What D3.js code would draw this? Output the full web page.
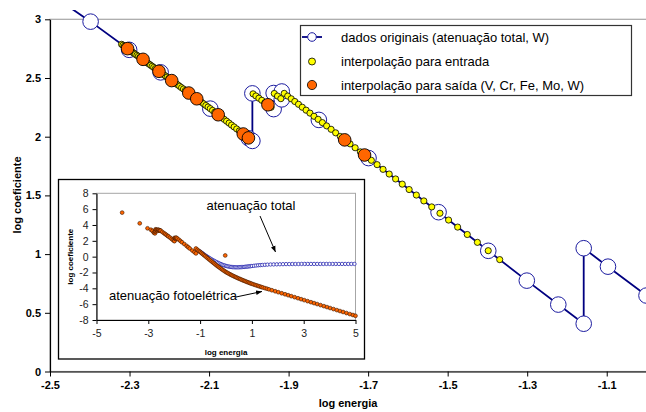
<!DOCTYPE html>
<html><head><meta charset="utf-8">
<script src="https://cdn.jsdelivr.net/npm/d3@7"></script>
<style>body{margin:0;background:#fff} svg{display:block} text{font-family:Arial,"Liberation Sans",sans-serif}</style>
</head><body>
<svg id="c" width="646" height="412"></svg>
<script>
// ---- main chart data (log10 energy in MeV, log10 coefficient) ----
const origLogE = [-2.5229,-2.3979,-2.3010,-2.2218,-2.0969,-2.0000,-1.9911,-1.9911,-1.9376,-1.9376,-1.9172,-1.9172,-1.8239,-1.6990,-1.5229,-1.3979,-1.3010,-1.2218,-1.1579,-1.1579,-1.0969,-1.0000];
const origLogMu = [3.27,2.980,2.740,2.548,2.239,1.986,1.964,2.369,2.235,2.372,2.318,2.385,2.143,1.818,1.357,1.028,0.774,0.570,0.407,1.050,0.893,0.647];

const entradaLogE = [-2.3200,-2.3166,-2.3132,-2.3098,-2.3063,-2.3029,-2.2994,-2.2958,-2.2923,-2.2887,
-2.2851,-2.2814,-2.2777,-2.2740,-2.2703,-2.2665,-2.2627,-2.2588,-2.2550,-2.2510,
-2.2471,-2.2431,-2.2391,-2.2350,-2.2309,-2.2268,-2.2226,-2.2184,-2.2142,-2.2099,
-2.2055,-2.2011,-2.1967,-2.1922,-2.1877,-2.1831,-2.1785,-2.1738,-2.1691,-2.1643,
-2.1595,-2.1546,-2.1497,-2.1447,-2.1397,-2.1345,-2.1294,-2.1241,-2.1188,-2.1135,
-2.1081,-2.1026,-2.0970,-2.0913,-2.0856,-2.0798,-2.0740,-2.0680,-2.0620,-2.0559,
-2.0497,-2.0434,-2.0370,-2.0305,-2.0239,-2.0172,-2.0105,-2.0036,-1.9966,-1.9894,
-1.9822,-1.9748,-1.9674,-1.9597,-1.9520,-1.9441,-1.9360,-1.9278,-1.9195,-1.9110,
-1.9023,-1.8934,-1.8844,-1.8751,-1.8657,-1.8560,-1.8462,-1.8361,-1.8257,-1.8151,
-1.8043,-1.7931,-1.7817,-1.7700,-1.7579,-1.7455,-1.7327,-1.7196,-1.7060,-1.6920,
-1.6775,-1.6625,-1.6470,-1.6309,-1.6142,-1.5969,-1.5788,-1.5599,-1.5401,-1.5194,
-1.4977,-1.4749,-1.4507,-1.4252,-1.3980,-1.3691];
const entradaLogMu = [2.787,2.779,2.770,2.762,2.753,2.745,2.736,2.728,2.719,2.710,
2.701,2.693,2.684,2.675,2.666,2.656,2.647,2.638,2.628,2.619,
2.609,2.600,2.590,2.580,2.570,2.560,2.550,2.539,2.529,2.518,
2.507,2.497,2.486,2.475,2.463,2.452,2.441,2.429,2.417,2.406,
2.394,2.382,2.369,2.357,2.345,2.332,2.319,2.306,2.293,2.280,
2.266,2.253,2.239,2.224,2.209,2.194,2.179,2.164,2.148,2.132,
2.116,2.099,2.083,2.066,2.049,2.031,2.014,1.996,1.978,2.365,
2.347,2.328,2.310,2.290,2.271,2.251,2.368,2.346,2.324,2.369,
2.346,2.323,2.300,2.276,2.251,2.226,2.201,2.174,2.148,2.120,
2.092,2.063,2.033,2.002,1.971,1.939,1.906,1.871,1.836,1.799,
1.762,1.722,1.682,1.640,1.596,1.550,1.503,1.453,1.402,1.348,
1.290,1.230,1.167,1.100,1.029,0.953];

const saidaLogE = [-2.305,-2.266,-2.226,-2.194,-2.151,-2.131,-2.077,-2.014,-2.001,-1.952,-1.759,-1.709];
const saidaLogMu = [2.750,2.659,2.557,2.478,2.372,2.323,2.187,2.023,1.990,2.272,1.973,1.844];

const xTicks = [-2.5,-2.3,-2.1,-1.9,-1.7,-1.5,-1.3,-1.1];
const yTicks = [0,0.5,1,1.5,2,2.5,3];
const legendLabels = ["dados originais (atenuação total, W)","interpolação para entrada","interpolação para saída (V, Cr, Fe, Mo, W)"];

// ---- inset data ----
const photoLogE = [-4.01,-3.33,-3.03,-2.90,-2.84,-2.79,-2.76,-2.74,-2.74,-2.73,
-2.72,-2.70,-2.68,-2.64,-2.64,-2.62,-2.59,-2.59,-2.55,-2.55,
-2.52,-2.46,-2.40,-2.35,-2.30,-2.25,-2.22,-2.16,-2.10,-2.05,
-2.00,-1.99,-1.99,-1.96,-1.94,-1.94,-1.92,-1.92,-1.88,-1.82,
-1.76,-1.70,-1.61,-1.52,-1.46,-1.40,-1.30,-1.22,-1.16,-1.16,
-1.10,-1.05,
-1.00,-0.95,-0.90,-0.85,-0.80,-0.75,-0.70,-0.65,-0.60,-0.55,
-0.50,-0.45,-0.40,-0.35,-0.30,-0.25,-0.20,-0.15,-0.10,-0.05,
0.00,0.05,0.10,0.15,0.20,0.25,0.30,0.35,0.40,0.45,
0.50,0.55,0.60,0.65,0.70,0.75,0.80,0.85,0.90,0.95,1.00,
1.06,1.12,1.18,1.24,1.30,1.36,1.42,1.50,1.58,1.66,
1.77,1.90,2.02,2.15,2.28,2.40,2.52,2.65,2.78,2.90,
3.02,3.15,3.28,3.40,3.52,3.65,3.78,3.90,4.02,4.15,
4.28,4.40,4.52,4.65,4.78,4.90,5.00,
-0.03];
const photoLogMu = [5.56,4.21,3.58,3.40,3.25,3.05,2.98,2.95,3.15,3.25,
3.45,3.40,3.35,3.25,3.40,3.38,3.30,3.38,3.28,3.33,
3.28,3.12,2.98,2.86,2.74,2.62,2.55,2.40,2.24,2.11,
1.99,1.96,2.37,2.29,2.23,2.37,2.32,2.39,2.29,2.14,
1.98,1.82,1.59,1.36,1.19,1.03,0.77,0.57,0.41,1.03,
0.87,0.72,
0.60,0.46,0.33,0.19,0.06,-0.08,-0.21,-0.35,-0.48,-0.62,
-0.75,-0.88,-1.01,-1.14,-1.26,-1.38,-1.50,-1.62,-1.73,-1.84,
-1.95,-2.04,-2.13,-2.22,-2.31,-2.39,-2.47,-2.55,-2.62,-2.70,
-2.77,-2.84,-2.91,-2.98,-3.05,-3.11,-3.18,-3.24,-3.31,-3.37,-3.43,
-3.50,-3.57,-3.63,-3.70,-3.76,-3.83,-3.89,-3.97,-4.05,-4.13,
-4.24,-4.37,-4.49,-4.62,-4.75,-4.87,-4.99,-5.12,-5.25,-5.37,
-5.49,-5.62,-5.75,-5.87,-5.99,-6.12,-6.25,-6.37,-6.49,-6.62,
-6.75,-6.87,-6.99,-7.12,-7.25,-7.37,-7.47,
0.15];
const totalLogE = [-1.00,-0.95,-0.90,-0.85,-0.80,-0.75,-0.70,-0.65,-0.60,-0.55,
-0.50,-0.45,-0.40,-0.35,-0.30,-0.25,-0.20,-0.15,-0.10,-0.05,
0.00,0.05,0.10,0.15,0.20,0.25,0.30,0.35,0.40,0.45,
0.50,0.55,0.60,0.65,0.70,0.75,0.80,0.85,0.90,0.95,1.00,
1.08,1.16,1.24,1.32,1.40,1.50,1.60,
1.72,1.84,1.96,2.08,2.20,2.32,2.44,2.56,2.68,2.80,2.92,
3.04,3.16,3.28,3.40,3.52,3.64,3.76,3.88,4.00,4.12,4.24,4.36,4.48,4.60,4.72,4.84,4.96];
const totalLogMu = [0.64,0.52,0.40,0.28,0.17,0.06,-0.05,-0.16,-0.26,-0.36,
-0.45,-0.54,-0.63,-0.71,-0.79,-0.87,-0.94,-1.01,-1.07,-1.12,
-1.17,-1.21,-1.25,-1.28,-1.30,-1.32,-1.33,-1.34,-1.34,-1.34,
-1.34,-1.33,-1.32,-1.31,-1.30,-1.28,-1.26,-1.24,-1.22,-1.20,-1.18,
-1.15,-1.12,-1.09,-1.07,-1.05,-1.03,-1.01,
-0.99,-0.98,-0.97,-0.96,-0.95,-0.94,-0.94,-0.93,-0.93,-0.93,-0.92,
-0.92,-0.92,-0.92,-0.92,-0.92,-0.92,-0.92,-0.92,-0.92,-0.92,-0.92,-0.92,-0.92,-0.92,-0.92,-0.92,-0.92];
const insetXTicks = [-5,-3,-1,1,3,5];
const insetYTicks = [-8,-6,-4,-2,0,2,4,6,8];

const zip = (a,b) => a.map((v,i)=>({x:v,y:b[i]}));
const orig = zip(origLogE, origLogMu);
const entrada = zip(entradaLogE, entradaLogMu);
const saida = zip(saidaLogE, saidaLogMu);
const photo = zip(photoLogE, photoLogMu);
const total = zip(totalLogE, totalLogMu);

const svg = d3.select("#c");
const NAVY = "#000080";

// ---- main scales ----
const x = d3.scaleLinear().domain([-2.5,-1.0]).range([50,646.5]);
const y = d3.scaleLinear().domain([0,3]).range([371.5,19.3]);

svg.append("defs").append("clipPath").attr("id","clipMain")
  .append("rect").attr("x",50).attr("y",10).attr("width",600).attr("height",362);

// plot area border (gray)
svg.append("rect").attr("x",50).attr("y",19.3).attr("width",600).attr("height",352.2)
  .attr("fill","none").attr("stroke","#a6a6a6").attr("stroke-width",1.2);

const data = svg.append("g").attr("clip-path","url(#clipMain)");
data.append("path").datum(orig)
  .attr("d", d3.line().x(d=>x(d.x)).y(d=>y(d.y)))
  .attr("fill","none").attr("stroke",NAVY).attr("stroke-width",1.8);
data.selectAll("circle.o").data(orig).join("circle").attr("class","o")
  .attr("cx",d=>x(d.x)).attr("cy",d=>y(d.y)).attr("r",7.8)
  .attr("fill","#fff").attr("stroke","#1c1ca0").attr("stroke-width",1);
data.selectAll("circle.e").data(entrada).join("circle").attr("class","e")
  .attr("cx",d=>x(d.x)).attr("cy",d=>y(d.y)).attr("r",3.1)
  .attr("fill","#ffff00").attr("stroke","#000").attr("stroke-width",0.8);
data.selectAll("circle.s").data(saida).join("circle").attr("class","s")
  .attr("cx",d=>x(d.x)).attr("cy",d=>y(d.y)).attr("r",6.3)
  .attr("fill","#ff6600").attr("stroke","#000").attr("stroke-width",0.9);

// axes
const fmt1 = d => d.toFixed(1);
const gx = svg.append("g").attr("transform","translate(0,371.5)")
  .call(d3.axisBottom(x).tickValues(xTicks).tickFormat(fmt1).tickSize(5).tickSizeOuter(0).tickPadding(5));
const gy = svg.append("g").attr("transform","translate(50,0)")
  .call(d3.axisLeft(y).tickValues(yTicks).tickFormat(d=>String(d)).tickSize(5).tickSizeOuter(0).tickPadding(4));
[gx,gy].forEach(g=>{
  g.select(".domain").attr("stroke","#000").attr("stroke-width",1.2);
  g.selectAll(".tick line").attr("stroke","#000");
  g.selectAll(".tick text").attr("fill","#000").style("font-size","11px").style("font-weight","bold")
    .style("font-family","Arial, 'Liberation Sans', sans-serif");
});

svg.append("text").attr("x",348).attr("y",407).attr("text-anchor","middle")
  .style("font-size","11px").style("font-weight","bold").text("log energia");
svg.append("text").attr("transform","translate(20.5,195) rotate(-90)").attr("text-anchor","middle")
  .style("font-size","11px").style("font-weight","bold").text("log coeficiente");

// legend
const lg = svg.append("g");
lg.append("rect").attr("x",300.5).attr("y",25.5).attr("width",331).attr("height",70)
  .attr("fill","#fff").attr("stroke","#333").attr("stroke-width",1.2);
const rows = [37,61.5,85];
lg.append("line").attr("x1",302).attr("x2",322).attr("y1",rows[0]).attr("y2",rows[0])
  .attr("stroke",NAVY).attr("stroke-width",1.8);
lg.append("circle").attr("cx",312).attr("cy",rows[0]).attr("r",4.3).attr("fill","#fff").attr("stroke","#1c1ca0");
lg.append("circle").attr("cx",312).attr("cy",rows[1]).attr("r",3.5).attr("fill","#ffff00").attr("stroke","#000").attr("stroke-width",0.8);
lg.append("circle").attr("cx",312).attr("cy",rows[2]).attr("r",4.6).attr("fill","#ff6600").attr("stroke","#000").attr("stroke-width",0.8);
lg.selectAll("text.l").data(legendLabels).join("text").attr("class","l")
  .attr("x",341).attr("y",(d,i)=>rows[i]+4.6).style("font-size","13px").attr("fill","#000").text(d=>d);

// ---- inset ----
const ins = svg.append("g");
ins.append("rect").attr("x",58.5).attr("y",179.5).attr("width",306).attr("height",179.5)
  .attr("fill","#fff").attr("stroke","#000").attr("stroke-width",1.3);
const ix = d3.scaleLinear().domain([-5,5]).range([96.5,355.5]);
const iy = d3.scaleLinear().domain([-8,8]).range([320,193.3]);
ins.append("rect").attr("x",96.5).attr("y",193.3).attr("width",259).attr("height",126.7)
  .attr("fill","none").attr("stroke","#a6a6a6").attr("stroke-width",1);

ins.selectAll("circle.t").data(total).join("circle").attr("class","t")
  .attr("cx",d=>ix(d.x)).attr("cy",d=>iy(d.y)).attr("r",1.7)
  .attr("fill","#fff").attr("stroke","#2626b0").attr("stroke-width",0.8);
ins.selectAll("circle.p").data(photo).join("circle").attr("class","p")
  .attr("cx",d=>ix(d.x)).attr("cy",d=>iy(d.y)).attr("r",1.9)
  .attr("fill","#ff6600").attr("stroke","#3a1500").attr("stroke-width",0.6);

const igx = ins.append("g").attr("transform","translate(0,320)")
  .call(d3.axisBottom(ix).tickValues(insetXTicks).tickFormat(d=>String(d)).tickSize(4).tickSizeOuter(0).tickPadding(6));
const igy = ins.append("g").attr("transform","translate(96.5,0)")
  .call(d3.axisLeft(iy).tickValues(insetYTicks).tickFormat(d=>String(d)).tickSize(4).tickSizeOuter(0).tickPadding(4));
[igx,igy].forEach(g=>{
  g.select(".domain").attr("stroke","#000").attr("stroke-width",1.1);
  g.selectAll(".tick line").attr("stroke","#000");
  g.selectAll(".tick text").attr("fill","#222").style("font-size","10.5px")
    .style("font-family","Arial, 'Liberation Sans', sans-serif");
});
ins.append("text").attr("x",226).attr("y",354.5).attr("text-anchor","middle")
  .style("font-size","8px").style("font-weight","bold").text("log energia");
ins.append("text").attr("transform","translate(72.5,256.7) rotate(-90)").attr("text-anchor","middle")
  .style("font-size","8px").style("font-weight","bold").text("log coeficiente");

const defs = svg.select("defs");
defs.append("marker").attr("id","ah").attr("viewBox","0 0 10 10").attr("refX",10).attr("refY",5)
  .attr("markerWidth",6).attr("markerHeight",6).attr("orient","auto")
  .append("path").attr("d","M0,1 L10,5 L0,9 Z").attr("fill","#000");

ins.append("text").attr("x",206.5).attr("y",209.5).style("font-size","13px").text("atenuação total");
ins.append("line").attr("x1",260).attr("y1",216).attr("x2",275.5).attr("y2",252)
  .attr("stroke","#000").attr("stroke-width",1).attr("marker-end","url(#ah)");
ins.append("text").attr("x",109).attr("y",299.5).style("font-size","13px").text("atenuação fotoelétrica");
ins.append("line").attr("x1",236).attr("y1",297).attr("x2",262).attr("y2",291.5)
  .attr("stroke","#000").attr("stroke-width",1).attr("marker-end","url(#ah)");
</script></body></html>
